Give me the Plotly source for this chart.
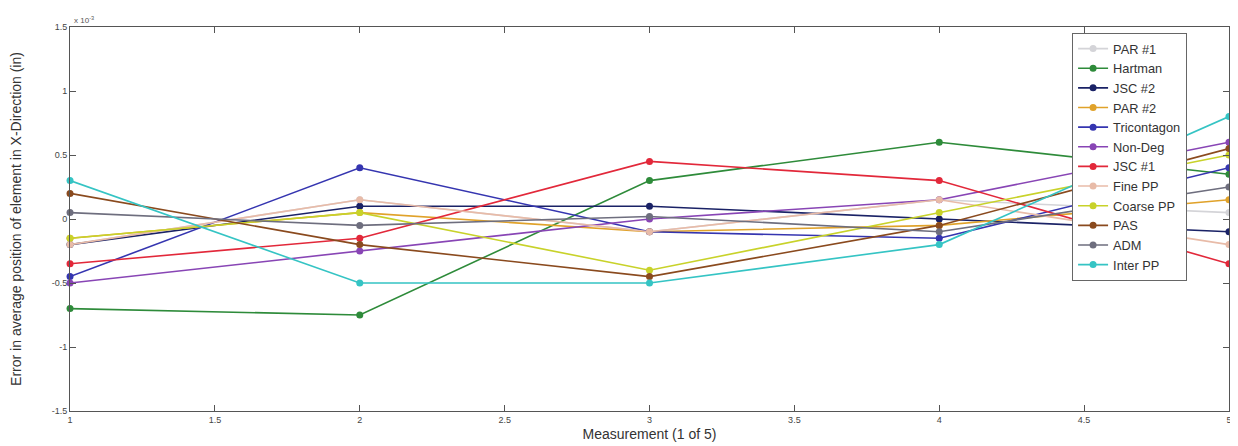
import plotly.graph_objects as go

measurements = [1, 2, 3, 4, 5]

# values in units of 1e-3 inches
par1 = [-0.20, 0.15, -0.10, 0.15, 0.05]
hartman = [-0.70, -0.75, 0.30, 0.60, 0.35]
jsc2 = [-0.20, 0.10, 0.10, 0.00, -0.10]
par2 = [-0.15, 0.05, -0.10, -0.05, 0.15]
tricontagon = [-0.45, 0.40, -0.10, -0.15, 0.40]
nondeg = [-0.50, -0.25, 0.00, 0.15, 0.60]
jsc1 = [-0.35, -0.15, 0.45, 0.30, -0.35]
finepp = [-0.20, 0.15, -0.10, 0.15, -0.20]
coarsepp = [-0.15, 0.05, -0.40, 0.05, 0.50]
pas = [0.20, -0.20, -0.45, -0.05, 0.55]
adm = [0.05, -0.05, 0.02, -0.10, 0.25]
interpp = [0.30, -0.50, -0.50, -0.20, 0.80]

series = [
    ("PAR #1", par1, "#d4d4d8"),
    ("Hartman", hartman, "#2e8b3a"),
    ("JSC #2", jsc2, "#1a2266"),
    ("PAR #2", par2, "#e0a22a"),
    ("Tricontagon", tricontagon, "#3535b0"),
    ("Non-Deg", nondeg, "#8845b5"),
    ("JSC #1", jsc1, "#e2283a"),
    ("Fine PP", finepp, "#e8bba8"),
    ("Coarse PP", coarsepp, "#c8d22a"),
    ("PAS", pas, "#8a4a1e"),
    ("ADM", adm, "#6e6e7e"),
    ("Inter PP", interpp, "#35c4c4"),
]

x_ticks = [1, 1.5, 2, 2.5, 3, 3.5, 4, 4.5, 5]
y_ticks = [-1.5, -1, -0.5, 0, 0.5, 1, 1.5]

fig = go.Figure()
for name, vals, color in series:
    fig.add_trace(go.Scatter(
        x=measurements, y=vals, name=name, mode="lines+markers",
        line=dict(color=color, width=1.6),
        marker=dict(color=color, size=7),
        cliponaxis=False,
    ))

axis_common = dict(
    showline=True, linecolor="#555", linewidth=1, mirror="ticks",
    ticks="inside", ticklen=6, tickcolor="#555", showgrid=False, zeroline=False,
    automargin=False,
    tickfont=dict(family="Arial, Liberation Sans", size=9, color="#444"),
)
fig.update_xaxes(range=[0.9999, 5.0001], tickvals=x_ticks, ticktext=[f"{v:g}" for v in x_ticks],
                 title=dict(text="Measurement (1 of 5)", standoff=5,
                            font=dict(family="Arial, Liberation Sans", size=14, color="#333")),
                 **axis_common)
fig.update_yaxes(range=[-1.5, 1.5], tickvals=y_ticks, ticktext=[f"{v:g}" for v in y_ticks],
                 title=dict(text="Error in average position of element in X-Direction (in)", standoff=28,
                            font=dict(family="Arial, Liberation Sans", size=14, color="#333")),
                 **axis_common)

fig.add_annotation(xref="paper", yref="paper", x=0.002, y=1.0, xanchor="left", yanchor="bottom",
                   text="x 10<sup>-3</sup>", showarrow=False,
                   font=dict(family="Arial, Liberation Sans", size=8, color="#555"))

fig.update_layout(
    width=1230, height=438,
    margin=dict(l=62, r=9, t=19, b=35),
    paper_bgcolor="white", plot_bgcolor="white",
    showlegend=True,
    legend=dict(x=0.8646, y=0.985, xanchor="left", yanchor="top",
                bgcolor="white", bordercolor="#666", borderwidth=1,
                font=dict(family="Arial, Liberation Sans", size=12.8, color="#333"),
                tracegroupgap=0, itemwidth=30),
)

fig.write_html("out.html")
